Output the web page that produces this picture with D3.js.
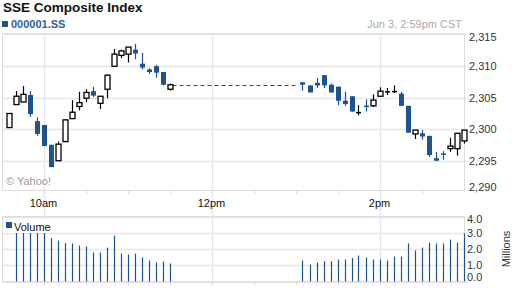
<!DOCTYPE html>
<html>
<head>
<meta charset="utf-8">
<script src="https://cdn.jsdelivr.net/npm/d3@7"></script>
<style>
  body { margin: 0; background: #fff; }
  svg text { font-family: "Liberation Sans", Arial, sans-serif; }
</style>
</head>
<body>
<div id="chart"></div>
<script>
// 5 minute candles, morning + afternoon session
const candleTimes = ["9:35","9:40","9:45","9:50","9:55","10:00","10:05","10:10","10:15","10:20","10:25","10:30",
  "10:35","10:40","10:45","10:50","10:55","11:00","11:05","11:10","11:15","11:20","11:25","11:30",
  "13:05","13:10","13:15","13:20","13:25","13:30","13:35","13:40","13:45","13:50","13:55","14:00",
  "14:05","14:10","14:15","14:20","14:25","14:30","14:35","14:40","14:45","14:50","14:55","15:00"];
const opens = [2300.3,2303.9,2304.3,2305.4,2301.3,2300.7,2297.6,2295.1,2298.1,2301.7,2303.6,2304.9,
  2306.0,2304.1,2306.3,2309.9,2311.6,2311.8,2312.5,2310.3,2309.4,2309.9,2309.0,2306.3,
  2307.4,2306.9,2307.3,2308.5,2307.0,2306.7,2304.5,2305.2,2302.7,2303.75,2303.7,2305.2,
  2306.0,2306.0,2305.6,2303.7,2299.3,2299.4,2299.0,2295.5,2296.25,2297.0,2297.0,2298.2];
const highs = [2302.5,2306.0,2306.8,2306.0,2301.9,2300.7,2297.6,2298.1,2301.6,2304.6,2305.9,2306.3,
  2306.7,2305.2,2308.6,2312.6,2312.5,2312.9,2313.4,2312.0,2309.6,2310.1,2309.0,2307.2,
  2307.4,2306.9,2308.1,2308.5,2307.2,2306.7,2305.9,2305.2,2303.8,2304.7,2305.5,2306.6,
  2306.5,2306.9,2305.9,2303.7,2299.9,2299.9,2299.0,2296.5,2296.6,2298.7,2299.4,2299.9];
const lows = [2300.3,2303.9,2304.3,2302.0,2299.0,2297.4,2294.1,2295.1,2298.1,2301.7,2303.0,2304.3,
  2305.1,2303.2,2304.9,2309.9,2311.2,2310.5,2311.0,2309.4,2308.7,2308.1,2306.9,2306.1,
  2306.1,2305.8,2306.5,2306.5,2305.8,2303.8,2303.7,2302.8,2302.2,2302.8,2303.5,2305.2,
  2305.4,2305.7,2303.7,2299.5,2298.5,2298.4,2295.7,2295.1,2295.25,2296.5,2295.9,2297.8];
const closes = [2302.5,2305.2,2305.5,2302.4,2299.3,2297.4,2294.1,2297.7,2301.5,2302.7,2304.2,2305.8,
  2305.3,2305.2,2308.5,2311.8,2312.3,2312.9,2311.9,2309.7,2309.0,2308.9,2307.0,2307.0,
  2307.0,2305.8,2306.9,2306.9,2305.8,2304.5,2304.0,2302.8,2302.75,2303.7,2304.6,2306.0,
  2306.0,2306.05,2303.7,2299.5,2299.9,2298.9,2296.0,2295.1,2296.2,2297.4,2299.4,2299.9];

// volume in millions
const volumeTimes = ["9:40","9:45","9:50","9:55","10:00","10:05","10:10","10:15","10:20","10:25","10:30","10:35",
  "10:40","10:45","10:50","10:55","11:00","11:05","11:10","11:15","11:20","11:25","11:30",
  "13:05","13:10","13:15","13:20","13:25","13:30","13:35","13:40","13:45","13:50","13:55","14:00",
  "14:05","14:10","14:15","14:20","14:25","14:30","14:35","14:40","14:45","14:50","14:55","15:00"];
const volumes = [3.1,3.0,3.2,3.0,3.1,2.67,2.52,2.36,2.34,2.22,2.15,1.78,
  1.78,2.09,2.83,1.72,1.66,1.72,1.48,1.29,1.17,1.23,1.11,
  1.29,1.05,1.17,1.25,1.25,1.35,1.35,1.44,1.6,1.48,1.35,1.35,
  1.29,1.54,1.54,2.34,1.91,2.09,2.4,2.34,2.34,2.58,2.4,2.95];

const priceTicks = [2290, 2295, 2300, 2305, 2310, 2315];
const volumeTicks = [0, 1, 2, 3, 4];
const timeLabels = [{ t: "10:00", label: "10am" }, { t: "12:00", label: "12pm" }, { t: "14:00", label: "2pm" }];
const minorTimes = ["10:00","10:30","11:00","11:30","12:00","12:30","13:00","13:30","14:00","14:30"];
const lunchGap = ["11:30", "13:00"];

const blue = "#1d5391";
const width = 512, height = 288;

const mins = (s) => {
  let p = s.split(":");
  return (+p[0] - 9) * 60 + (+p[1]) - 30;
};

const svg = d3.select("#chart").append("svg")
  .attr("width", width)
  .attr("height", height);

const plot = { left: 2.5, right: 464.5, top: 33.5, bottom: 190.5 };
const vplot = { top: 216.5, bottom: 281.5 };

const x = d3.scaleLinear().domain([0, 330]).range([1.5, 463.5]);
const y = d3.scaleLinear().domain([2290, 2315]).range([193.3, 33.7]);
const yv = d3.scaleLinear().domain([0, 4]).range([281.5, 216.5]);

// titles
svg.append("text").attr("x", 3).attr("y", 12)
  .style("font-size", "13.5px").style("font-weight", "bold").attr("fill", "#111")
  .text("SSE Composite Index");
svg.append("rect").attr("x", 2).attr("y", 21).attr("width", 6).attr("height", 6).attr("fill", blue);
svg.append("text").attr("x", 11).attr("y", 27.5)
  .style("font-size", "11px").style("font-weight", "bold").attr("fill", "#2a62a0")
  .text("000001.SS");
svg.append("text").attr("x", 462).attr("y", 28).attr("text-anchor", "end")
  .style("font-size", "11px").attr("fill", "#aaa")
  .text("Jun 3, 2:59pm CST");

// gridlines - horizontal
svg.append("g").selectAll("line").data(priceTicks.filter(d => y(d) < plot.bottom)).enter()
  .append("line")
  .attr("x1", plot.left).attr("x2", plot.right + 3)
  .attr("y1", d => Math.round(y(d)) + 0.5).attr("y2", d => Math.round(y(d)) + 0.5)
  .attr("stroke", "#e6e6ea").attr("stroke-width", 1.5);
svg.append("g").selectAll("line").data(volumeTicks).enter()
  .append("line")
  .attr("x1", plot.left).attr("x2", plot.right + 3)
  .attr("y1", d => Math.round(yv(d)) + 0.5).attr("y2", d => Math.round(yv(d)) + 0.5)
  .attr("stroke", "#e6e6ea").attr("stroke-width", 1.5);

// gridlines - vertical
svg.append("g").selectAll("line").data(timeLabels).enter()
  .append("line")
  .attr("x1", d => Math.round(x(mins(d.t))) + 0.5).attr("x2", d => Math.round(x(mins(d.t))) + 0.5)
  .attr("y1", plot.top).attr("y2", vplot.bottom)
  .attr("stroke", "#e3e8f1").attr("stroke-width", 1.5);

// frames
svg.append("path")
  .attr("d", `M${plot.right},${plot.top}H${plot.left}V${plot.bottom}H${plot.right}Z`)
  .attr("fill", "none").attr("stroke", "#dcdcdc");
svg.append("path")
  .attr("d", `M${plot.right},${vplot.top}H${plot.left}V${vplot.bottom}H${plot.right}Z`)
  .attr("fill", "none").attr("stroke", "#dcdcdc");

// small time ticks
minorTimes.forEach((t) => {
  let xx = Math.round(x(mins(t))) + 0.5;
  svg.append("line").attr("x1", xx).attr("x2", xx).attr("y1", plot.bottom).attr("y2", plot.bottom + 4)
    .attr("stroke", "#dcdcdc");
  svg.append("line").attr("x1", xx).attr("x2", xx).attr("y1", vplot.bottom).attr("y2", vplot.bottom + 4)
    .attr("stroke", "#dcdcdc");
});

// time labels
svg.append("g").selectAll("text").data(timeLabels).enter()
  .append("text")
  .attr("x", d => x(mins(d.t)))
  .attr("y", 207)
  .attr("text-anchor", "middle")
  .style("font-size", "11px").attr("fill", "#111")
  .text(d => d.label);

// right axis labels
svg.append("g").selectAll("text").data(priceTicks).enter()
  .append("text")
  .attr("x", 469)
  .attr("y", d => Math.min(Math.max(y(d), 37), 187) + 4)
  .style("font-size", "11px").attr("fill", "#333")
  .text(d => d3.format(",")(d));
svg.append("g").selectAll("text").data(volumeTicks).enter()
  .append("text")
  .attr("x", 467)
  .attr("y", d => Math.min(Math.max(yv(d), 219), 277) + 4)
  .style("font-size", "11px").attr("fill", "#333")
  .text(d => d3.format(".1f")(d));
svg.append("text")
  .attr("transform", "translate(510,249) rotate(-90)")
  .attr("text-anchor", "middle")
  .style("font-size", "11px").attr("fill", "#333")
  .text("Millions");

svg.append("text").attr("x", 6).attr("y", 184.5)
  .style("font-size", "11px").attr("fill", "#999")
  .text("\u00a9 Yahoo!");

// lunch break dashed line
const lastClose = closes[candleTimes.indexOf("11:30")];
svg.append("line")
  .attr("x1", x(mins(lunchGap[0])) + 3).attr("x2", x(mins(lunchGap[1])))
  .attr("y1", Math.round(y(lastClose)) + 0.5).attr("y2", Math.round(y(lastClose)) + 0.5)
  .attr("stroke", blue).attr("stroke-dasharray", "4,3");

// candles
const candles = candleTimes.map((t, i) => ({
  t: t, o: opens[i], h: highs[i], l: lows[i], c: closes[i]
}));

const cg = svg.append("g").selectAll("g").data(candles).enter().append("g");
cg.append("line")
  .attr("x1", d => Math.round(x(mins(d.t))) + 0.5)
  .attr("x2", d => Math.round(x(mins(d.t))) + 0.5)
  .attr("y1", d => y(d.h))
  .attr("y2", d => y(d.l))
  .attr("stroke", d => (d.c >= d.o ? "#000" : blue))
  .attr("stroke-width", 1.2);
cg.append("rect")
  .attr("x", d => Math.round(x(mins(d.t))) - 2)
  .attr("width", 5)
  .attr("y", d => Math.min(y(d.o), y(d.c)))
  .attr("height", d => Math.max(Math.abs(y(d.o) - y(d.c)), 1.5))
  .attr("fill", d => (d.c >= d.o ? (Math.abs(y(d.o) - y(d.c)) < 2 ? "#000" : "#fff") : blue))
  .attr("stroke", d => (d.c >= d.o && Math.abs(y(d.o) - y(d.c)) >= 2 ? "#000" : "none"))
  .attr("stroke-width", 1.3);

// volume legend + bars
svg.append("g").selectAll("line").data(volumes).enter()
  .append("line")
  .attr("x1", (d, i) => Math.round(x(mins(volumeTimes[i]))) + 0.5)
  .attr("x2", (d, i) => Math.round(x(mins(volumeTimes[i]))) + 0.5)
  .attr("y1", yv(0))
  .attr("y2", d => yv(d))
  .attr("stroke", blue).attr("stroke-width", 1.2);

svg.append("rect").attr("x", 4).attr("y", 219).attr("width", 49).attr("height", 14).attr("fill", "#fff");
svg.append("rect").attr("x", 6).attr("y", 222).attr("width", 6).attr("height", 6).attr("fill", blue);
svg.append("text").attr("x", 14).attr("y", 231)
  .style("font-size", "11px").attr("fill", "#111")
  .text("Volume");
</script>
</body>
</html>
